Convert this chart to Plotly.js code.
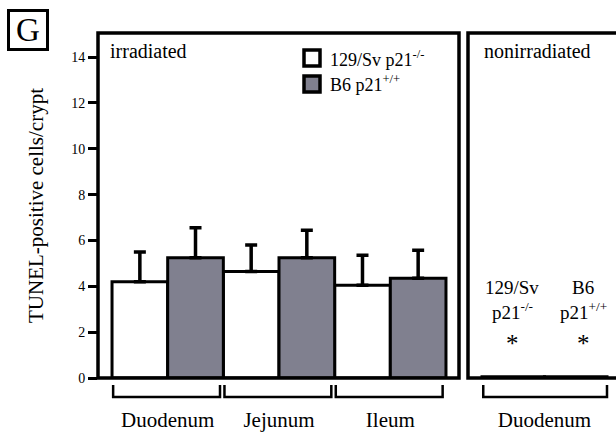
<!DOCTYPE html>
<html>
<head>
<meta charset="utf-8">
<script src="https://cdn.plot.ly/plotly-3.0.1.min.js"></script>
<style>
  html, body { margin: 0; padding: 0; background: #ffffff; }
  #chart { width: 616px; height: 432px; }
</style>
</head>
<body>
<div id="chart"></div>
<script>
// Intestinal segments, irradiated mice
const segments = ["Duodenum", "Jejunum", "Ileum"];
const koMean = [4.2, 4.65, 4.05];      // 129/Sv p21-/-
const koErr = [1.3, 1.15, 1.3];
const wtMean = [5.25, 5.25, 4.35];     // B6 p21+/+
const wtErr = [1.3, 1.2, 1.22];

// Nonirradiated controls (duodenum only)
const ctrlSegments = ["Duodenum"];
const ctrlKO = [0.05];
const ctrlWT = [0.05];
const ctrlLabelTop = ["129/Sv", "B6"];
const ctrlLabelBottom = ["p21<sup>-/-</sup>", "p21<sup>+/+</sup>"];
const ctrlMarkY = 1.5;

const seriesNames = ["129/Sv p21<sup>-/-</sup>", "B6 p21<sup>+/+</sup>"];
const yTicks = [0, 2, 4, 6, 8, 10, 12, 14];

const W = 616, H = 432;
const px = x => x / W;
const py = y => 1 - y / H;
const SERIF = "Liberation Serif, Times New Roman, serif";
const seriesColors = ["#ffffff", "#80808f"];

const errStyle = (arr) => ({
  type: "data", array: arr, arrayminus: arr.map(() => 0), symmetric: false,
  visible: true, color: "#000", thickness: 3.5, width: 6
});

const traces = [
  {
    type: "bar", name: seriesNames[0], x: segments, y: koMean, showlegend: false,
    xaxis: "x", yaxis: "y",
    marker: { color: seriesColors[0], line: { color: "#000", width: 3 } },
    error_y: errStyle(koErr), hoverinfo: "skip"
  },
  {
    type: "bar", name: seriesNames[1], x: segments, y: wtMean, showlegend: false,
    xaxis: "x", yaxis: "y",
    marker: { color: seriesColors[1], line: { color: "#000", width: 3 } },
    error_y: errStyle(wtErr), hoverinfo: "skip"
  },
  {
    type: "bar", name: "ctrl KO", x: ctrlSegments, y: ctrlKO, showlegend: false,
    xaxis: "x2", yaxis: "y",
    marker: { color: "#000", line: { color: "#000", width: 3 } }, hoverinfo: "skip"
  },
  {
    type: "bar", name: "ctrl WT", x: ctrlSegments, y: ctrlWT, showlegend: false,
    xaxis: "x2", yaxis: "y",
    marker: { color: "#000", line: { color: "#000", width: 3 } }, hoverinfo: "skip"
  }
];

// Brackets beneath each segment group
function bracket(xref, i, lo, hi) {
  const y0 = py(385), y1 = py(397);
  return {
    type: "path", xref: xref, yref: "paper",
    path: `M ${i + lo} ${y0} L ${i + lo} ${y1} L ${i + hi} ${y1} L ${i + hi} ${y0}`,
    line: { color: "#000", width: 2.5 }
  };
}

const shapes = [
  // panel frames
  { type: "rect", xref: "paper", yref: "paper", x0: px(98), x1: px(459), y0: py(378), y1: py(33),
    line: { color: "#000", width: 3.5 }, layer: "above" },
  { type: "rect", xref: "paper", yref: "paper", x0: px(468), x1: px(640), y0: py(378), y1: py(33),
    line: { color: "#000", width: 3.5 }, layer: "above" }
];
segments.forEach((s, i) => shapes.push(bracket("x", i, -0.49, 0.47)));
ctrlSegments.forEach((s, i) => shapes.push(bracket("x2", i, -0.49, 0.5)));

const annotations = [
  { text: "G", xref: "paper", yref: "paper", x: px(28), y: py(30), xanchor: "center", yanchor: "middle",
    showarrow: false, font: { family: SERIF, size: 33, color: "#000" },
    bordercolor: "#000", borderwidth: 3, borderpad: 0, width: 36, height: 36 },
  { text: "irradiated", xref: "paper", yref: "paper", x: px(108), y: py(51), xanchor: "left", yanchor: "middle",
    showarrow: false, font: { family: SERIF, size: 20, color: "#000" } },
  { text: "nonirradiated", xref: "paper", yref: "paper", x: px(482), y: py(51), xanchor: "left", yanchor: "middle",
    showarrow: false, font: { family: SERIF, size: 20, color: "#000" } }
];

// Key: swatch plus label for each strain
const keyRows = [58, 84];
seriesNames.forEach((name, k) => {
  const cy = keyRows[k];
  shapes.push({ type: "rect", xref: "paper", yref: "paper",
    x0: px(304), x1: px(320), y0: py(cy + 8), y1: py(cy - 8),
    fillcolor: seriesColors[k], line: { color: "#000", width: 3.5 }, layer: "above" });
  annotations.push({ text: name, xref: "paper", yref: "paper", x: px(328), y: py(cy), xanchor: "left", yanchor: "middle",
    showarrow: false, font: { family: SERIF, size: 18, color: "#000" } });
});

// Labels and markers over the nonirradiated bars
const ctrlX = [-0.26, 0.31];
ctrlLabelTop.forEach((t, k) => {
  annotations.push({ text: t, xref: "x2", yref: "paper", x: ctrlX[k], y: py(296), xanchor: "center", yanchor: "bottom",
    yshift: -4, showarrow: false, font: { family: SERIF, size: 19, color: "#000" } });
  annotations.push({ text: ctrlLabelBottom[k], xref: "x2", yref: "paper", x: ctrlX[k], y: py(321), xanchor: "center", yanchor: "bottom",
    yshift: -4, showarrow: false, font: { family: SERIF, size: 19, color: "#000" } });
  annotations.push({ text: "*", xref: "x2", yref: "y", x: ctrlX[k], y: ctrlMarkY, xanchor: "center", yanchor: "middle",
    showarrow: false, font: { family: SERIF, size: 25, color: "#000" } });
});

const axisCommon = {
  type: "category", showgrid: false, zeroline: false, showline: false, ticks: "",
  tickfont: { family: SERIF, size: 21, color: "#000" }, ticklabelstandoff: 27, fixedrange: true
};

const layout = {
  width: W, height: H,
  margin: { l: 0, r: 0, t: 0, b: 0 },
  paper_bgcolor: "#ffffff", plot_bgcolor: "#ffffff",
  barmode: "group", bargap: 0, bargroupgap: 0,
  showlegend: false,
  xaxis: Object.assign({}, axisCommon, { domain: [px(98), px(459)], range: [-0.626, 2.617], anchor: "y" }),
  xaxis2: Object.assign({}, axisCommon, { domain: [px(468), 1], range: [-0.612, 0.572], anchor: "y" }),
  yaxis: {
    domain: [py(378), py(33)], range: [0, 15.05], anchor: "x",
    tickvals: yTicks, ticktext: yTicks.map(String),
    ticks: "outside", ticklen: 9, tickwidth: 3, tickcolor: "#000",
    tickfont: { family: SERIF, size: 14, color: "#000" },
    showgrid: false, zeroline: false, showline: false, fixedrange: true,
    title: { text: "TUNEL-positive cells/crypt", font: { family: SERIF, size: 21, color: "#000" }, standoff: 21 }
  },
  shapes: shapes,
  annotations: annotations
};

Plotly.newPlot("chart", traces, layout, { staticPlot: true, displayModeBar: false });
</script>
</body>
</html>
